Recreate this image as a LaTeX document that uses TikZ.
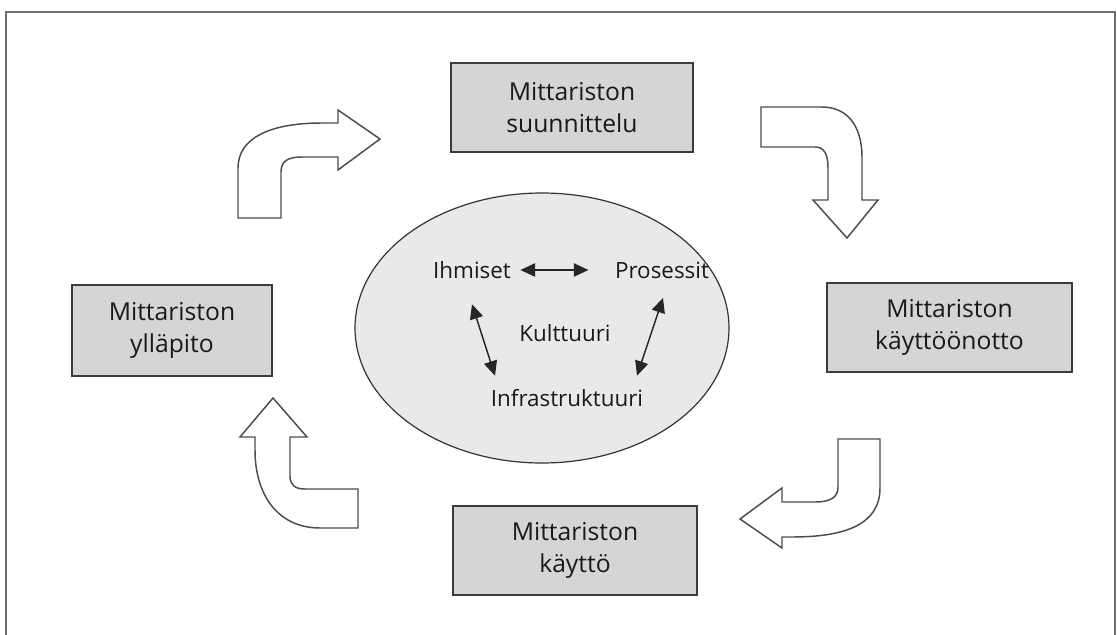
\documentclass[tikz,border=0pt]{standalone}
\usepackage{fontspec}
\setmainfont{Open Sans}
\usetikzlibrary{shapes.geometric,arrows.meta,calc}
\definecolor{boxgray}{HTML}{D3D5D7}
\definecolor{ovalgray}{HTML}{E8E9EA}
\definecolor{edgegray}{HTML}{3C3C3C}
\definecolor{framegray}{HTML}{6E6E6E}
\tikzset{
  stagebox/.style={draw=edgegray, line width=1.5pt, fill=boxgray, align=center,
    font=\fontsize{18.5}{24}\selectfont, text=black!90, inner sep=0pt},
  inner/.style={font=\fontsize{16.8}{20}\selectfont, text=black!90, inner sep=1pt},
  link/.style={line width=1.1pt, draw=black!85,
    {Triangle[length=11pt,width=10pt]}-{Triangle[length=11pt,width=10pt]}},
  bentarrow/.style={draw=black!70, line width=1.1pt, fill=white, line join=miter}
}
\begin{document}
\begin{tikzpicture}[x=0.75pt,y=-0.75pt]
\useasboundingbox (0,0) rectangle (1117,635);
\fill[white] (0,0) rectangle (1117,635);
% outer frame
\draw[framegray, line width=1.4pt] (6,635) -- (6,12) -- (1115,12) -- (1115,635);

% the four stages
\node[stagebox, minimum width=181.5pt, minimum height=66.75pt] (plan) at (572,107.5) {Mittariston\\suunnittelu};
\node[stagebox, minimum width=183.75pt, minimum height=66.75pt] (deploy) at (949.5,327.5) {Mittariston\\käyttöönotto};
\node[stagebox, minimum width=183pt, minimum height=66.75pt] (use) at (575,550.5) {Mittariston\\käyttö};
\node[stagebox, minimum width=150pt, minimum height=68.25pt] (maint) at (172,330.5) {Mittariston\\ylläpito};

% central oval
\node[ellipse, draw=black!80, line width=0.9pt, fill=ovalgray, minimum width=280.5pt, minimum height=202.5pt] (core) at (542,328) {};
\node[inner] (ihm) at (472,270) {Ihmiset};
\node[inner] (pro) at (662,270) {Prosessit};
\node[inner] (kul) at (565,333) {Kulttuuri};
\node[inner] (inf) at (567,398) {Infrastruktuuri};

\draw[link] ($(ihm.east)+(8,0)$) -- ($(pro.west)+(-25,0)$);
\draw[link] ($(ihm.south)+(0,24)$) -- ($(inf.north)+(-72,-12)$);
\draw[link] ($(pro.south)+(1,18)$) -- ($(inf.north)+(70,-12)$);

% bent block arrows around the cycle
\draw[bentarrow] (238,218) -- (238,168) .. controls (238,138) and (270,123) .. (322,123)
  -- (338,123) -- (338,110) -- (380,139) -- (338,170) -- (338,157) -- (302,157)
  .. controls (288,157) and (281,161) .. (281,172) -- (281,218) -- cycle;
\draw[bentarrow] (761,107) -- (822,107) .. controls (848,107) and (862,127) .. (862,157)
  -- (862,200) -- (878,200) -- (847,238) -- (813,200) -- (828,200) -- (828,168)
  .. controls (828,154) and (824,147) .. (815,147) -- (761,147) -- cycle;
\draw[bentarrow] (838,439) -- (880,439) -- (880,488) .. controls (880,524) and (846,537) .. (792,537)
  -- (782,537) -- (782,548) -- (740,519) -- (782,488) -- (782,502) -- (815,502)
  .. controls (831,502) and (838,497) .. (838,487) -- cycle;
\draw[bentarrow] (273,398) -- (307,437) -- (290,437) -- (290,476)
  .. controls (290,485) and (295,489) .. (305,489) -- (358,489) -- (358,528) -- (320,528)
  .. controls (278,528) and (255,495) .. (255,450) -- (255,437) -- (240,437) -- cycle;
\end{tikzpicture}
\end{document}
